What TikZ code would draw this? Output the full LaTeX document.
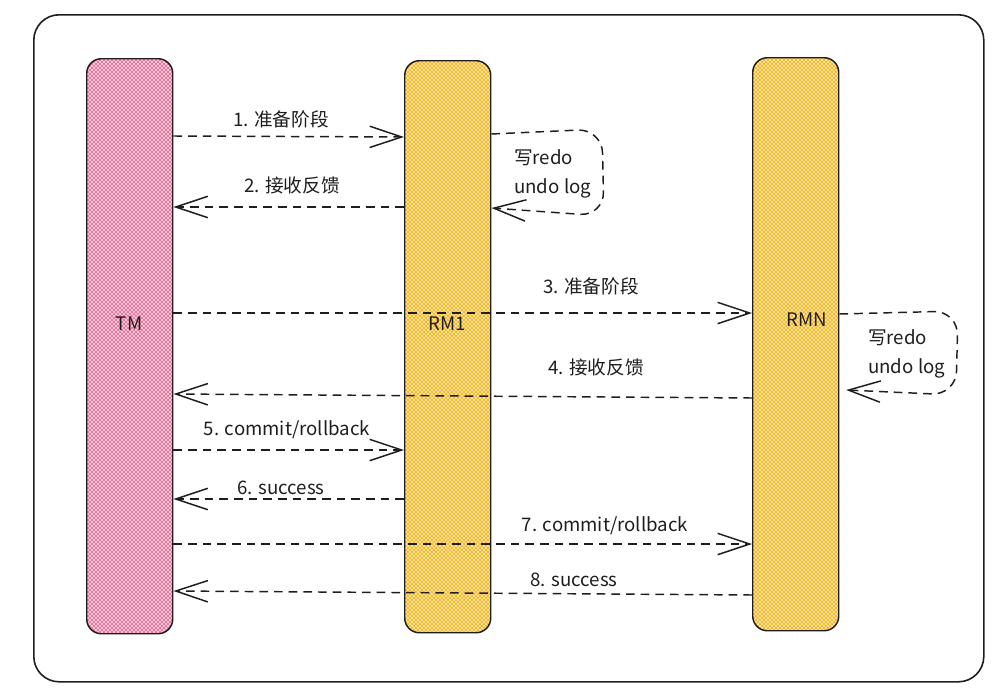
\documentclass[tikz,border=0pt]{standalone}
\usepackage{fontspec}
\setmainfont{Noto Sans CJK SC}
\usetikzlibrary{arrows.meta,patterns}
\definecolor{ink}{HTML}{1E1E1E}
\definecolor{pinkc}{HTML}{E64980}
\definecolor{yelc}{HTML}{FAB005}
\begin{document}
\begin{tikzpicture}[x=0.75pt,y=-0.75pt,
  lane/.style={draw=ink, line width=1.1pt, rounded corners=11pt, anchor=north west, inner sep=0pt, minimum width=64.5pt},
  tmlane/.style={lane, preaction={fill=pinkc!25!white}, preaction={pattern=north east lines, pattern color=pinkc!85!white}, pattern=north west lines, pattern color=pinkc!85!white},
  rmlane/.style={lane, preaction={fill=yelc!30!white}, preaction={pattern=north east lines, pattern color=yelc}, pattern=north west lines, pattern color=yelc},
  msg/.style={draw=ink, line width=1.1pt, dash pattern=on 6.5pt off 4.5pt, -{Straight Barb[length=24pt,width=16pt]}},
  lbl/.style={font=\fontsize{14pt}{17pt}\selectfont, text=ink, inner sep=0pt},
  notetext/.style={font=\fontsize{14pt}{22pt}\selectfont, text=ink, inner sep=0pt, align=left, anchor=west},
  lanelabel/.style={font=\fontsize{14pt}{16pt}\selectfont, text=ink, inner sep=0pt}]
\useasboundingbox (0,0) rectangle (1008,700);
\node[draw=ink, line width=1.2pt, rounded corners=19pt, anchor=north west, inner sep=0pt,
      minimum width=712.5pt, minimum height=500.25pt] (frame) at (33,14) {};

\node[tmlane, minimum height=431.25pt] (tm) at (86,58) {};
\node[rmlane, minimum height=429pt] (rm1) at (404,60) {};
\node[rmlane, minimum height=429.75pt] (rmn) at (752,57) {};

\node[lanelabel] (tml) at (129,324) {TM};
\node[lanelabel] (rm1l) at (447,324) {RM1};
\node[lanelabel] (rmnl) at (807,320) {RMN};

% messages
\draw[msg] (tm.east |- 0,136) -- (rm1.west |- 0,137);
\draw[msg] (rm1.west |- 0,207) -- (tm.east |- 0,207);
\draw[msg] (tm.east |- 0,313) -- (rmn.west |- 0,313);
\draw[msg] (rmn.west |- 0,398) -- (tm.east |- 0,394);
\draw[msg] (tm.east |- 0,450) -- (rm1.west |- 0,450);
\draw[msg] (rm1.west |- 0,499) -- (tm.east |- 0,499);
\draw[msg] (tm.east |- 0,544) -- (rmn.west |- 0,544);
\draw[msg] (rmn.west |- 0,595) -- (tm.east |- 0,591);

% self loops
\draw[msg, rounded corners=18pt] (rm1.east |- 0,134) -- (602,129) -- (604,216) -- (rm1.east |- 0,208);
\draw[msg, rounded corners=18pt] (rmn.east |- 0,314) -- (958,311) -- (956,395) -- ([xshift=5pt]rmn.east |- 0,390);

% labels
\node[lbl] (l1) at (281,119) {1. 准备阶段};
\node[lbl] (l2) at (292,185) {2. 接收反馈};
\node[lbl] (l3) at (591,286) {3. 准备阶段};
\node[lbl] (l4) at (596,367) {4. 接收反馈};
\node[lbl] (l5) at (287,430) {5. commit/rollback};
\node[lbl] (l6) at (281,488) {6. success};
\node[lbl] (l7) at (605,526) {7. commit/rollback};
\node[lbl] (l8) at (574,580) {8. success};

\node[notetext] (n1) at (514,174) {写redo\\undo log};
\node[notetext] (n2) at (868,354) {写redo\\undo log};
\end{tikzpicture}
\end{document}
